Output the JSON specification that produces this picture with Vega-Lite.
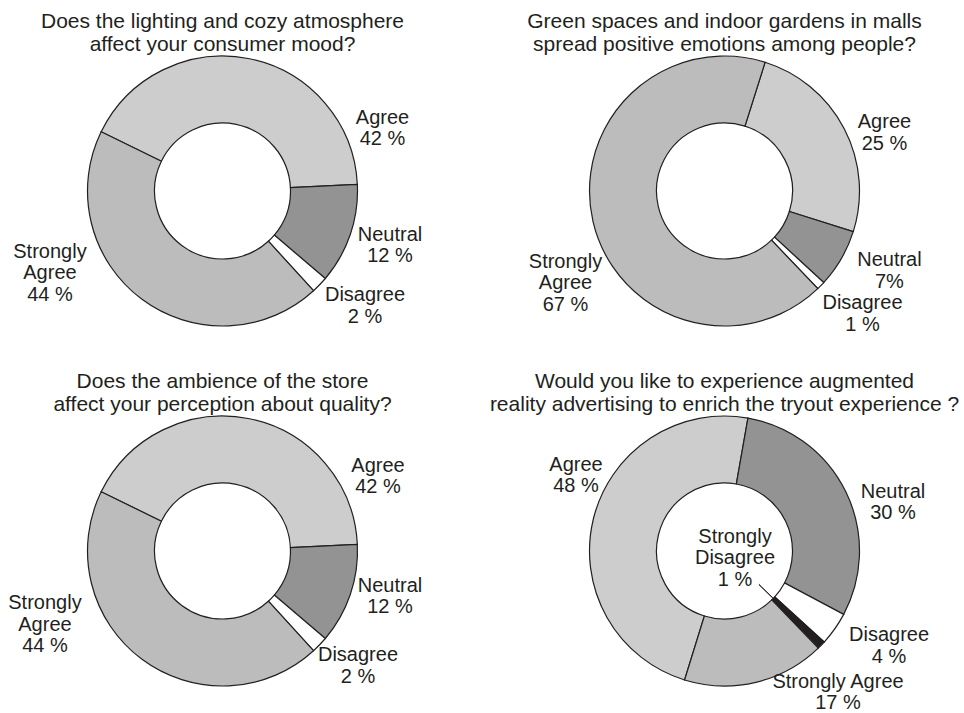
{
  "$schema": "https://vega.github.io/schema/vega-lite/v6.json",
  "autosize": {"type": "pad"},
  "padding": {"left": 2.5, "top": 10, "right": 0, "bottom": 0},
  "background": "white",
  "config": {
    "view": {"stroke": null},
    "font": "Liberation Sans",
    "title": {"font": "Liberation Sans", "fontSize": 21, "fontWeight": "normal", "color": "#231f20", "lineHeight": 23, "anchor": "middle", "offset": -1},
    "text": {"font": "Liberation Sans", "fontSize": 20, "lineHeight": 21.5, "align": "center", "baseline": "alphabetic", "color": "#231f20"},
    "arc": {"stroke": "#231f20", "strokeWidth": 1.2}
  },
  "datasets": {
    "survey": [
      {"question": "q1", "answer": "Agree", "value": 42, "order": 1, "label": ["Agree", "42 %"]},
      {"question": "q1", "answer": "Neutral", "value": 12, "order": 2, "label": ["Neutral", "12 %"]},
      {"question": "q1", "answer": "Disagree", "value": 2, "order": 3, "label": ["Disagree", "2 %"]},
      {"question": "q1", "answer": "Strongly Agree", "value": 44, "order": 4, "label": ["Strongly", "Agree", "44 %"]},
      {"question": "q2", "answer": "Agree", "value": 25, "order": 1, "label": ["Agree", "25 %"]},
      {"question": "q2", "answer": "Neutral", "value": 7, "order": 2, "label": ["Neutral", "7%"]},
      {"question": "q2", "answer": "Disagree", "value": 1, "order": 3, "label": ["Disagree", "1 %"]},
      {"question": "q2", "answer": "Strongly Agree", "value": 67, "order": 4, "label": ["Strongly", "Agree", "67 %"]},
      {"question": "q3", "answer": "Agree", "value": 42, "order": 1, "label": ["Agree", "42 %"]},
      {"question": "q3", "answer": "Neutral", "value": 12, "order": 2, "label": ["Neutral", "12 %"]},
      {"question": "q3", "answer": "Disagree", "value": 2, "order": 3, "label": ["Disagree", "2 %"]},
      {"question": "q3", "answer": "Strongly Agree", "value": 44, "order": 4, "label": ["Strongly", "Agree", "44 %"]},
      {"question": "q4", "answer": "Agree", "value": 48, "order": 1, "label": ["Agree", "48 %"]},
      {"question": "q4", "answer": "Neutral", "value": 30, "order": 2, "label": ["Neutral", "30 %"]},
      {"question": "q4", "answer": "Disagree", "value": 4, "order": 3, "label": ["Disagree", "4 %"]},
      {"question": "q4", "answer": "Strongly Disagree", "value": 1, "order": 4, "label": ["Strongly", "Disagree", "1 %"]},
      {"question": "q4", "answer": "Strongly Agree", "value": 17, "order": 5, "label": ["Strongly Agree", "17 %"]}
    ]
  },
  "data": {"name": "survey"},
  "columns": 2,
  "spacing": {"row": 90, "column": 62},
  "bounds": "flush",
  "resolve": {"scale": {"theta": "independent"}},
  "concat": [
    {
      "title": {"text": ["Does the lighting and cozy atmosphere", "affect your consumer mood?"]},
      "width": 440, "height": 270,
      "transform": [
        {"filter": "datum.question == 'q1'"},
        {"stack": "value", "groupby": [], "sort": [{"field": "order", "order": "ascending"}], "as": ["v0", "v1"]},
        {"calculate": "(datum.v0 + datum.v1) / 2", "as": "mid"}
      ],
      "layer": [
        {
          "mark": {"type": "arc", "innerRadius": 68, "outerRadius": 135},
          "encoding": {
            "theta": {"field": "v0", "type": "quantitative", "stack": null, "scale": {"domain": [0, 100], "range": [-1.11701, 5.16617]}},
            "theta2": {"field": "v1"},
            "fill": {"field": "answer", "type": "nominal", "legend": null, "scale": {"domain": ["Agree", "Neutral", "Disagree", "Strongly Agree", "Strongly Disagree"], "range": ["#cdcdcd", "#939393", "#ffffff", "#bcbcbc", "#231f20"]}}
          }
        },
        {
          "transform": [{"filter": "datum.answer == 'Agree'"}],
          "mark": {"type": "text", "radius": 165, "dx": 126.8, "dy": 94.3},
          "encoding": {"theta": {"field": "mid", "type": "quantitative", "stack": null, "scale": {"domain": [0, 100], "range": [-1.11701, 5.16617]}}, "text": {"field": "label"}}
        },
        {
          "transform": [{"filter": "datum.answer == 'Neutral'"}],
          "mark": {"type": "text", "radius": 165, "dx": 11.3, "dy": -3.2},
          "encoding": {"theta": {"field": "mid", "type": "quantitative", "stack": null, "scale": {"domain": [0, 100], "range": [-1.11701, 5.16617]}}, "text": {"field": "label"}}
        },
        {
          "transform": [{"filter": "datum.answer == 'Disagree'"}],
          "mark": {"type": "text", "radius": 165, "dx": 23.8, "dy": -4.6},
          "encoding": {"theta": {"field": "mid", "type": "quantitative", "stack": null, "scale": {"domain": [0, 100], "range": [-1.11701, 5.16617]}}, "text": {"field": "label"}}
        },
        {
          "transform": [{"filter": "datum.answer == 'Strongly Agree'"}],
          "mark": {"type": "text", "radius": 165, "dx": -73.7, "dy": -65.4},
          "encoding": {"theta": {"field": "mid", "type": "quantitative", "stack": null, "scale": {"domain": [0, 100], "range": [-1.11701, 5.16617]}}, "text": {"field": "label"}}
        }
      ]
    },
    {
      "title": {"text": ["Green spaces and indoor gardens in malls", "spread positive emotions among people?"]},
      "width": 440, "height": 270,
      "transform": [
        {"filter": "datum.question == 'q2'"},
        {"stack": "value", "groupby": [], "sort": [{"field": "order", "order": "ascending"}], "as": ["v0", "v1"]},
        {"calculate": "(datum.v0 + datum.v1) / 2", "as": "mid"}
      ],
      "layer": [
        {
          "mark": {"type": "arc", "innerRadius": 68, "outerRadius": 135},
          "encoding": {
            "theta": {"field": "v0", "type": "quantitative", "stack": null, "scale": {"domain": [0, 100], "range": [0.30543, 6.58862]}},
            "theta2": {"field": "v1"},
            "fill": {"field": "answer", "type": "nominal", "legend": null, "scale": {"domain": ["Agree", "Neutral", "Disagree", "Strongly Agree", "Strongly Disagree"], "range": ["#cdcdcd", "#939393", "#ffffff", "#bcbcbc", "#231f20"]}}
          }
        },
        {
          "transform": [{"filter": "datum.answer == 'Agree'"}],
          "mark": {"type": "text", "radius": 165, "dx": 13.6, "dy": 13.5},
          "encoding": {"theta": {"field": "mid", "type": "quantitative", "stack": null, "scale": {"domain": [0, 100], "range": [0.30543, 6.58862]}}, "text": {"field": "label"}}
        },
        {
          "transform": [{"filter": "datum.answer == 'Neutral'"}],
          "mark": {"type": "text", "radius": 165, "dx": 22.2, "dy": -7.7},
          "encoding": {"theta": {"field": "mid", "type": "quantitative", "stack": null, "scale": {"domain": [0, 100], "range": [0.30543, 6.58862]}}, "text": {"field": "label"}}
        },
        {
          "transform": [{"filter": "datum.answer == 'Disagree'"}],
          "mark": {"type": "text", "radius": 165, "dx": 20.3, "dy": 2.7},
          "encoding": {"theta": {"field": "mid", "type": "quantitative", "stack": null, "scale": {"domain": [0, 100], "range": [0.30543, 6.58862]}}, "text": {"field": "label"}}
        },
        {
          "transform": [{"filter": "datum.answer == 'Strongly Agree'"}],
          "mark": {"type": "text", "radius": 165, "dx": 1.7, "dy": 39.3},
          "encoding": {"theta": {"field": "mid", "type": "quantitative", "stack": null, "scale": {"domain": [0, 100], "range": [0.30543, 6.58862]}}, "text": {"field": "label"}}
        }
      ]
    },
    {
      "title": {"text": ["Does the ambience of the store", "affect your perception about quality?"]},
      "width": 440, "height": 270,
      "transform": [
        {"filter": "datum.question == 'q3'"},
        {"stack": "value", "groupby": [], "sort": [{"field": "order", "order": "ascending"}], "as": ["v0", "v1"]},
        {"calculate": "(datum.v0 + datum.v1) / 2", "as": "mid"}
      ],
      "layer": [
        {
          "mark": {"type": "arc", "innerRadius": 68, "outerRadius": 135},
          "encoding": {
            "theta": {"field": "v0", "type": "quantitative", "stack": null, "scale": {"domain": [0, 100], "range": [-1.11701, 5.16617]}},
            "theta2": {"field": "v1"},
            "fill": {"field": "answer", "type": "nominal", "legend": null, "scale": {"domain": ["Agree", "Neutral", "Disagree", "Strongly Agree", "Strongly Disagree"], "range": ["#cdcdcd", "#939393", "#ffffff", "#bcbcbc", "#231f20"]}}
          }
        },
        {
          "transform": [{"filter": "datum.answer == 'Agree'"}],
          "mark": {"type": "text", "radius": 165, "dx": 122.3, "dy": 82.6},
          "encoding": {"theta": {"field": "mid", "type": "quantitative", "stack": null, "scale": {"domain": [0, 100], "range": [-1.11701, 5.16617]}}, "text": {"field": "label"}}
        },
        {
          "transform": [{"filter": "datum.answer == 'Neutral'"}],
          "mark": {"type": "text", "radius": 165, "dx": 11.3, "dy": -12.2},
          "encoding": {"theta": {"field": "mid", "type": "quantitative", "stack": null, "scale": {"domain": [0, 100], "range": [-1.11701, 5.16617]}}, "text": {"field": "label"}}
        },
        {
          "transform": [{"filter": "datum.answer == 'Disagree'"}],
          "mark": {"type": "text", "radius": 165, "dx": 16.8, "dy": -4.6},
          "encoding": {"theta": {"field": "mid", "type": "quantitative", "stack": null, "scale": {"domain": [0, 100], "range": [-1.11701, 5.16617]}}, "text": {"field": "label"}}
        },
        {
          "transform": [{"filter": "datum.answer == 'Strongly Agree'"}],
          "mark": {"type": "text", "radius": 165, "dx": -78.7, "dy": -74.1},
          "encoding": {"theta": {"field": "mid", "type": "quantitative", "stack": null, "scale": {"domain": [0, 100], "range": [-1.11701, 5.16617]}}, "text": {"field": "label"}}
        }
      ]
    },
    {
      "title": {"text": ["Would you like to experience augmented", "reality advertising to enrich the tryout experience ?"]},
      "width": 440, "height": 270,
      "transform": [
        {"filter": "datum.question == 'q4'"},
        {"stack": "value", "groupby": [], "sort": [{"field": "order", "order": "ascending"}], "as": ["v0", "v1"]},
        {"calculate": "(datum.v0 + datum.v1) / 2", "as": "mid"}
      ],
      "layer": [
        {
          "mark": {"type": "arc", "innerRadius": 68, "outerRadius": 135},
          "encoding": {
            "theta": {"field": "v0", "type": "quantitative", "stack": null, "scale": {"domain": [0, 100], "range": [3.44182, 9.72501]}},
            "theta2": {"field": "v1"},
            "fill": {"field": "answer", "type": "nominal", "legend": null, "scale": {"domain": ["Agree", "Neutral", "Disagree", "Strongly Agree", "Strongly Disagree"], "range": ["#cdcdcd", "#939393", "#ffffff", "#bcbcbc", "#231f20"]}}
          }
        },
        {
          "transform": [{"filter": "datum.answer == 'Strongly Disagree'"}],
          "mark": {"type": "arc", "innerRadius": 48, "outerRadius": 68, "fill": null, "stroke": "#231f20", "strokeWidth": 1},
          "encoding": {
            "theta": {"field": "mid", "type": "quantitative", "stack": null, "scale": {"domain": [0, 100], "range": [3.44182, 9.72501]}},
            "theta2": {"field": "mid"}
          }
        },
        {
          "transform": [{"filter": "datum.answer == 'Agree'"}],
          "mark": {"type": "text", "radius": 165, "dx": 11.9, "dy": -41.2},
          "encoding": {"theta": {"field": "mid", "type": "quantitative", "stack": null, "scale": {"domain": [0, 100], "range": [3.44182, 9.72501]}}, "text": {"field": "label"}}
        },
        {
          "transform": [{"filter": "datum.answer == 'Neutral'"}],
          "mark": {"type": "text", "radius": 165, "dx": 20.2, "dy": 19.3},
          "encoding": {"theta": {"field": "mid", "type": "quantitative", "stack": null, "scale": {"domain": [0, 100], "range": [3.44182, 9.72501]}}, "text": {"field": "label"}}
        },
        {
          "transform": [{"filter": "datum.answer == 'Disagree'"}],
          "mark": {"type": "text", "radius": 165, "dx": 29.7, "dy": -5.1},
          "encoding": {"theta": {"field": "mid", "type": "quantitative", "stack": null, "scale": {"domain": [0, 100], "range": [3.44182, 9.72501]}}, "text": {"field": "label"}}
        },
        {
          "transform": [{"filter": "datum.answer == 'Strongly Disagree'"}],
          "mark": {"type": "text", "radius": 0, "dx": 10.5, "dy": -8.3},
          "encoding": {"theta": {"field": "mid", "type": "quantitative", "stack": null, "scale": {"domain": [0, 100], "range": [3.44182, 9.72501]}}, "text": {"field": "label"}}
        },
        {
          "transform": [{"filter": "datum.answer == 'Strongly Agree'"}],
          "mark": {"type": "text", "radius": 165, "dx": 75.3, "dy": -24},
          "encoding": {"theta": {"field": "mid", "type": "quantitative", "stack": null, "scale": {"domain": [0, 100], "range": [3.44182, 9.72501]}}, "text": {"field": "label"}}
        }
      ]
    }
  ]
}
